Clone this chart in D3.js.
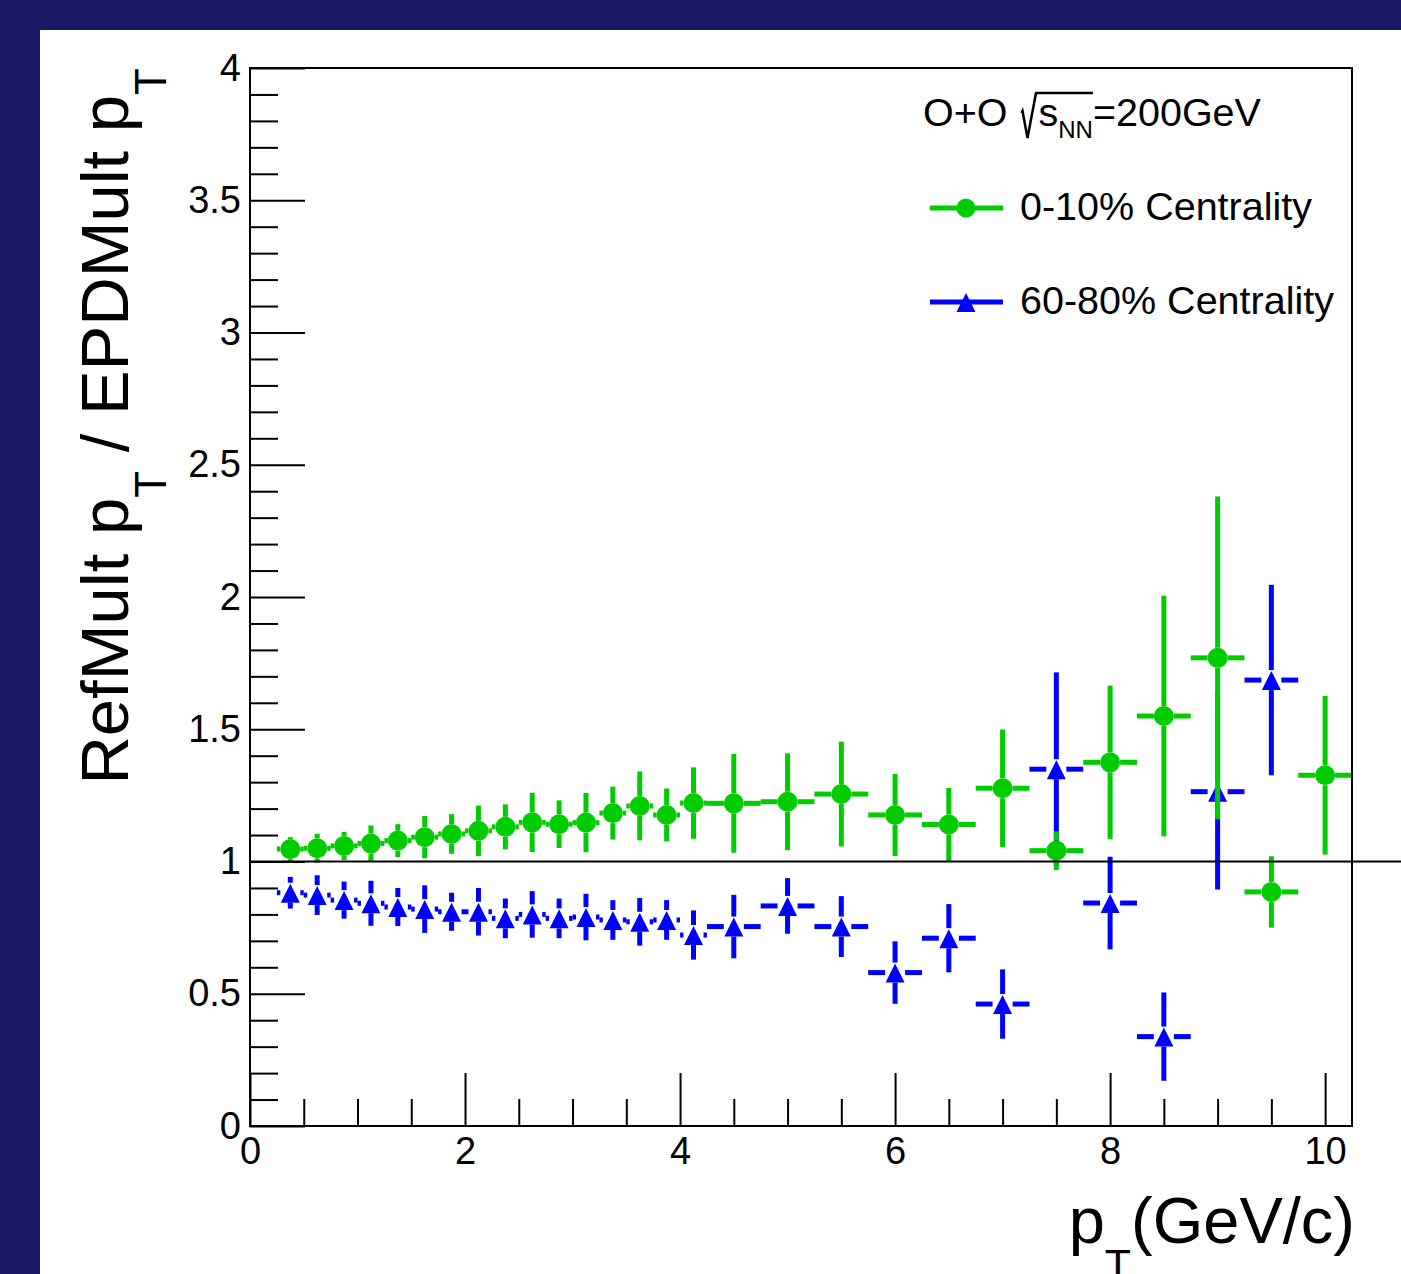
<!DOCTYPE html>
<html>
<head>
<meta charset="utf-8">
<script src="https://cdn.jsdelivr.net/npm/d3@7"></script>
<style>
  body { margin: 0; background: #1b1964; overflow: hidden; }
  svg { display: block; }
  text { font-family: "Liberation Sans", Arial, Helvetica, sans-serif; }
</style>
</head>
<body>
<svg id="chart" width="1401" height="1274"></svg>
<script>
// bin centres and half widths (GeV/c)
var ptBins = [0.375, 0.625, 0.875, 1.125, 1.375, 1.625, 1.875, 2.125, 2.375, 2.625,
  2.875, 3.125, 3.375, 3.625, 3.875, 4.125, 4.5, 5, 5.5, 6, 6.5, 7, 7.5, 8, 8.5, 9, 9.5, 10];
var ptHalf = [0.125, 0.125, 0.125, 0.125, 0.125, 0.125, 0.125, 0.125, 0.125, 0.125,
  0.125, 0.125, 0.125, 0.125, 0.125, 0.125, 0.25, 0.25, 0.25, 0.25, 0.25, 0.25, 0.25,
  0.25, 0.25, 0.25, 0.25, 0.25];

// 0-10% centrality
var central = [1.047, 1.05, 1.059, 1.068, 1.079, 1.092, 1.104, 1.116, 1.131, 1.148,
  1.141, 1.147, 1.183, 1.21, 1.176, 1.221, 1.22, 1.226, 1.255, 1.176, 1.14, 1.277,
  1.041, 1.375, 1.55, 1.77, 0.885, 1.326];
var centralErr = [0.045, 0.055, 0.053, 0.068, 0.062, 0.08, 0.075, 0.095, 0.085, 0.112,
  0.09, 0.112, 0.1, 0.13, 0.1, 0.135, 0.187, 0.183, 0.198, 0.155, 0.138, 0.222,
  0.073, 0.29, 0.455, 0.61, 0.135, 0.30];

// 60-80% centrality (no entry in the last bin)
var peripheral = [0.882, 0.873, 0.854, 0.842, 0.828, 0.82, 0.81, 0.81, 0.785, 0.80,
  0.785, 0.79, 0.779, 0.772, 0.779, 0.722, 0.754, 0.832, 0.754, 0.58, 0.71, 0.461,
  1.349, 0.843, 0.338, 1.264, 1.686, null];
var peripheralErr = [0.06, 0.075, 0.07, 0.085, 0.072, 0.09, 0.072, 0.09, 0.075, 0.088,
  0.075, 0.088, 0.075, 0.09, 0.075, 0.093, 0.12, 0.105, 0.115, 0.118, 0.129, 0.131,
  0.366, 0.175, 0.167, 0.37, 0.36, null];

var xTicks = [0, 2, 4, 6, 8, 10];
var yTicks = [0, 0.5, 1, 1.5, 2, 2.5, 3, 3.5, 4];
var legendLabels = ["0-10% Centrality", "60-80% Centrality"];

var GREEN = "#00cc00", BLUE = "#0000ff";
var font = 38, legFont = 39.5;

var svg = d3.select("#chart");

// white pad
svg.append("rect")
  .attr("x", 40).attr("y", 30)
  .attr("width", 1401).attr("height", 1300)
  .attr("fill", "#fff");

var x = d3.scaleLinear().domain([0, 10.25]).range([250, 1352]);
var y = d3.scaleLinear().domain([0, 4]).range([1126, 68]);

function series(vals, errs) {
  var out = [];
  vals.forEach(function(v, i) {
    if (v === null) return;
    out.push({ x: ptBins[i], ex: ptHalf[i], y: v, ey: errs[i] });
  });
  return out;
}

// error bars with the ROOT-style gap around the marker
var gap = 10;
function drawErrors(g, data, color) {
  data.forEach(function(d) {
    var cx = x(d.x), cy = y(d.y);
    var segs = [
      [x(d.x - d.ex), cy, cx - gap, cy],
      [cx + gap, cy, x(d.x + d.ex), cy],
      [cx, y(d.y + d.ey), cx, cy - gap],
      [cx, cy + gap, cx, y(d.y - d.ey)]
    ];
    segs.forEach(function(s) {
      if ((s[2] - s[0]) < 0 || (s[3] - s[1]) < 0) return;
      g.append("line")
        .attr("x1", s[0]).attr("y1", s[1])
        .attr("x2", s[2]).attr("y2", s[3])
        .attr("stroke", color)
        .attr("stroke-width", 5);
    });
  });
}

function triangle(cx, cy) {
  return "M" + cx + "," + (cy - 9) + "L" + (cx + 9.5) + "," + (cy + 10) +
    "L" + (cx - 9.5) + "," + (cy + 10) + "Z";
}

var blueData = series(peripheral, peripheralErr);
var greenData = series(central, centralErr);

var gb = svg.append("g");
drawErrors(gb, blueData, BLUE);
gb.selectAll("path.tri")
  .data(blueData)
  .enter().append("path")
  .attr("class", "tri")
  .attr("d", function(d) { return triangle(x(d.x), y(d.y)); })
  .attr("fill", BLUE);

var gg = svg.append("g");
drawErrors(gg, greenData, GREEN);
gg.selectAll("circle")
  .data(greenData)
  .enter().append("circle")
  .attr("cx", function(d) { return x(d.x); })
  .attr("cy", function(d) { return y(d.y); })
  .attr("r", 10)
  .attr("fill", GREEN);

// reference line at 1
svg.append("line")
  .attr("x1", x(0)).attr("x2", 1401)
  .attr("y1", y(1)).attr("y2", y(1))
  .attr("stroke", "#000")
  .attr("stroke-width", 2);

// axes, ticks drawn inward
var yMinor = d3.range(1, 40).filter(function(k) { return k % 5 !== 0; })
  .map(function(k) { return k / 10; });
var xMinor = d3.range(1, 21).filter(function(k) { return k % 4 !== 0; })
  .map(function(k) { return k / 2; });

svg.append("g")
  .attr("transform", "translate(250,0)")
  .call(d3.axisLeft(y).tickValues(yTicks).tickSizeInner(-55).tickSizeOuter(0)
    .tickPadding(9).tickFormat(d3.format("")));
svg.append("g")
  .attr("transform", "translate(250,0)")
  .call(d3.axisLeft(y).tickValues(yMinor).tickSizeInner(-28).tickSizeOuter(0)
    .tickFormat(""));

svg.append("g")
  .attr("transform", "translate(0,1126)")
  .call(d3.axisBottom(x).tickValues(xTicks).tickSizeInner(-53).tickSizeOuter(0)
    .tickPadding(11).tickFormat(d3.format("")));
svg.append("g")
  .attr("transform", "translate(0,1126)")
  .call(d3.axisBottom(x).tickValues(xMinor).tickSizeInner(-27).tickSizeOuter(0)
    .tickFormat(""));

svg.selectAll(".domain").remove();
svg.selectAll(".tick line").attr("stroke", "#000").attr("stroke-width", 2);
svg.selectAll(".tick text")
  .attr("font-size", font)
  .attr("fill", "#000")
  .style("font-family", "'Liberation Sans', Arial, sans-serif");

// frame
svg.append("rect")
  .attr("x", x(0)).attr("y", y(4))
  .attr("width", x(10.25) - x(0)).attr("height", y(0) - y(4))
  .attr("fill", "none")
  .attr("stroke", "#000")
  .attr("stroke-width", 2);

// axis titles
var xt = svg.append("text")
  .attr("x", 1355).attr("y", 1243)
  .attr("text-anchor", "end")
  .attr("font-size", 65);
xt.append("tspan").text("p");
xt.append("tspan").attr("font-size", 43).attr("dy", 36).text("T");
xt.append("tspan").attr("dy", -36).text("(GeV/c)");

var yt = svg.append("text")
  .attr("transform", "translate(128,68) rotate(-90)")
  .attr("text-anchor", "end")
  .attr("font-size", 67);
yt.append("tspan").text("RefMult p");
yt.append("tspan").attr("font-size", 44).attr("dy", 38).text("T");
yt.append("tspan").attr("dy", -38).text(" / EPDMult p");
yt.append("tspan").attr("font-size", 44).attr("dy", 38).text("T");

// legend header with sqrt sign
var lt = svg.append("text")
  .attr("x", 923).attr("y", 126)
  .attr("font-size", legFont);
lt.append("tspan").text("O+O ");
lt.append("tspan").attr("dx", 20).text("s");
lt.append("tspan").attr("font-size", 24).attr("dy", 12).text("NN");
lt.append("tspan").attr("font-size", legFont).attr("dy", -12).text("=200GeV");

var sStart = lt.node().getStartPositionOfChar(4).x;
var nnEnd = lt.node().getEndPositionOfChar(6).x;
var r0 = sStart - 16, base = 126;
svg.append("path")
  .attr("d", "M" + (r0 - 1) + "," + (base - 13) +
    "L" + r0 + "," + (base - 15) +
    "L" + (r0 + 5) + "," + (base + 12) +
    "L" + (r0 + 13.5) + "," + (base - 33) +
    "L" + nnEnd + "," + (base - 33))
  .attr("fill", "none")
  .attr("stroke", "#000")
  .attr("stroke-width", 2.5);

// legend entries
var legendRows = [
  { label: legendLabels[0], color: GREEN, y: 208, marker: "circle" },
  { label: legendLabels[1], color: BLUE, y: 302, marker: "triangle" }
];
legendRows.forEach(function(row) {
  svg.append("line")
    .attr("x1", 930).attr("x2", 1003)
    .attr("y1", row.y).attr("y2", row.y)
    .attr("stroke", row.color)
    .attr("stroke-width", 5);
  if (row.marker === "circle") {
    svg.append("circle")
      .attr("cx", 966).attr("cy", row.y).attr("r", 9.5)
      .attr("fill", row.color);
  } else {
    svg.append("path")
      .attr("d", triangle(966, row.y))
      .attr("fill", row.color);
  }
  svg.append("text")
    .attr("x", 1020).attr("y", row.y + 12)
    .attr("font-size", legFont)
    .text(row.label);
});
</script>
</body>
</html>
